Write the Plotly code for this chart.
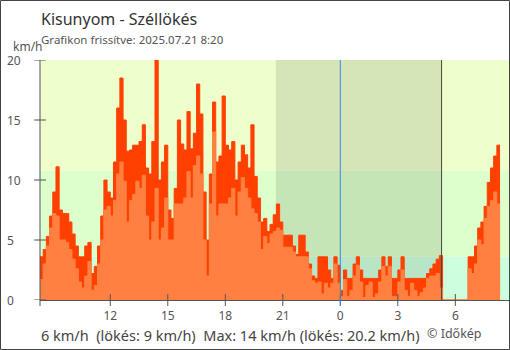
import pandas as pd
import plotly.graph_objects as go

# 10-minute readings, Kisunyom station
start_time = "2025-07-20 08:20"
step = "10min"

gust_kmh = [
    3.6, 4.2, 5.3, 7.0, 9.0, 11.1, 7.5, 7.2, 7.2, 6.5, 5.5, 4.5, 3.6, 3.6, 4.5, 4.8, 2.2, 2.8, 4.5, 7.0, 10.0, 9.0, 8.5, 11.5,
    16.0, 18.5, 15.0, 12.4, 12.5, 12.9, 12.9, 13.2, 14.6, 11.0, 10.5, 13.2, 20.2, 10.0, 11.5, 12.9, 7.5, 6.8, 9.3, 15.0, 13.0, 12.5, 15.7, 12.6, 13.9,
    18.0, 15.5, 9.0, 5.0, 10.5, 16.5, 11.5, 12.0, 17.0, 12.9, 12.5, 13.2, 10.0, 11.5, 12.9, 12.1, 11.0, 14.6, 10.3, 8.5, 6.5, 6.8, 5.7, 6.3, 7.1,
    8.0, 6.5, 5.4, 5.4, 5.4, 4.5, 3.8, 5.4, 5.4, 4.0, 3.0, 2.0, 1.8, 3.6, 3.6, 3.6, 2.5, 1.8, 3.6, 2.9, 0.8, 2.5, 1.8,
    1.8, 3.0, 3.6, 2.5, 1.8, 1.8, 1.8, 1.8, 1.8, 2.5, 3.6, 2.8, 3.6, 1.8, 1.8, 2.5, 3.6, 1.8, 1.8, 1.8, 1.8, 1.8, 1.8, 1.8, 2.2, 2.6, 3.0, 3.4, 3.7,
    0, 0, 0, 0, 0, 0, 0, 0,
    3.6, 3.6, 4.5, 6.0, 6.5, 7.8, 9.8, 11.0, 12.0, 12.9, 12.9,
]
wind_kmh = [
    1.7, 3.0, 4.5, 6.0, 7.2, 7.0, 5.0, 5.0, 4.8, 4.2, 3.4, 2.6, 1.5, 1.0, 2.0, 3.2, 0.8, 1.2, 3.0, 5.0, 7.5, 7.8, 7.0, 8.3,
    10.5, 11.5, 9.9, 6.5, 8.3, 8.8, 9.9, 9.3, 10.4, 7.0, 5.0, 6.5, 9.3, 5.0, 6.0, 8.5, 5.0, 5.0, 8.0, 8.0, 8.0, 8.5, 10.7, 8.5, 11.2,
    12.0, 10.5, 5.0, 2.0, 8.0, 14.0, 7.0, 8.0, 8.0, 8.0, 8.5, 9.3, 7.0, 9.0, 10.2, 9.3, 8.5, 7.6, 7.2, 6.5, 4.2, 5.3, 4.7, 5.5, 5.7,
    6.0, 5.8, 4.4, 4.4, 4.4, 4.0, 3.6, 3.6, 3.6, 3.6, 2.6, 1.6, 1.4, 1.5, 0.5, 1.4, 1.0, 1.4, 3.0, 1.4, 0.3, 1.7, 0.3,
    0.8, 2.0, 2.9, 1.5, 0.2, 1.2, 1.5, 0.2, 0.5, 1.5, 2.8, 2.0, 2.8, 0.3, 0.3, 1.5, 2.5, 0.8, 0.3, 1.4, 0.8, 0.3, 0.6, 1.0, 1.8, 2.0, 2.0, 2.2, 1.0,
    0, 0, 0, 0, 0, 0, 0, 0,
    2.6, 2.2, 3.0, 5.0, 4.6, 6.8, 7.8, 8.3, 9.0, 8.0, 8.0,
]

times = pd.date_range(start_time, periods=len(gust_kmh), freq=step)

# axis
x_range = ["2025-07-20 08:20", "2025-07-21 08:48"]
y_range = [0, 20]
x_tick_times = ["2025-07-20 12:00", "2025-07-20 15:00", "2025-07-20 18:00", "2025-07-20 21:00",
                "2025-07-21 00:00", "2025-07-21 03:00", "2025-07-21 06:00"]
x_tick_labels = ["12", "15", "18", "21", "0", "3", "6"]
y_tick_values = [0, 5, 10, 15, 20]
y_tick_labels = ["0", "5", "10", "15", "20"]

# wind-strength bands (km/h) and their colours
band_edges = [0, 3.6, 10.8, 20]
band_colors = ["#ccffdd", "#ddffcc", "#eeffcc"]

sunset = "2025-07-20 20:38"
sunrise = "2025-07-21 05:17"
midnight = "2025-07-21 00:00"

NBSP = "\u00a0"
title = "Kisunyom - Széllökés"
subtitle = "Grafikon frissítve: 2025.07.21 8:20"
summary = f"6 km/h{NBSP}{NBSP}(lökés: 9 km/h){NBSP}{NBSP}Max: 14 km/h (lökés: 20.2 km/h)"
credit = "© Időkép"

W, H = 510, 350
ML, MR, MT, MB = 40, 1, 60, 50
PW, PH = W - ML - MR, H - MT - MB


def px(x):
    return (x - ML) / PW


def py(y):
    return (MT + PH - y) / PH


FONT = "Noto Sans"
GUST_COLOR = "#ff4000"
WIND_COLOR = "#ff8040"
AXIS_COLOR = "#555555"

fig = go.Figure()
fig.add_trace(go.Scatter(
    x=times, y=gust_kmh, mode="lines", line=dict(shape="hv", width=1, color=GUST_COLOR),
    fill="tozeroy", fillcolor=GUST_COLOR, hoverinfo="skip", showlegend=False,
))
fig.add_trace(go.Scatter(
    x=times, y=wind_kmh, mode="lines", line=dict(shape="hv", width=1, color=WIND_COLOR),
    fill="tozeroy", fillcolor=WIND_COLOR, hoverinfo="skip", showlegend=False,
))

shapes = []
for lo, hi, col in zip(band_edges[:-1], band_edges[1:], band_colors):
    shapes.append(dict(type="rect", xref="paper", yref="y", x0=0, x1=1, y0=lo, y1=hi,
                       fillcolor=col, line=dict(width=0), layer="below"))
# night
shapes.append(dict(type="rect", xref="x", yref="paper", x0=sunset, x1=sunrise, y0=0, y1=1,
                   fillcolor="rgba(0,0,0,0.1)", line=dict(width=0), layer="below"))
# y axis line and crossing ticks
shapes.append(dict(type="line", xref="paper", yref="paper", x0=0, x1=0, y0=py(306), y1=1,
                   line=dict(color=AXIS_COLOR, width=1)))
for v in y_tick_values:
    shapes.append(dict(type="line", xref="paper", yref="y", x0=px(34), x1=px(46), y0=v, y1=v,
                       line=dict(color=AXIS_COLOR, width=1)))
for t in x_tick_times:
    shapes.append(dict(type="line", xref="x", yref="paper", x0=t, x1=t, y0=py(294), y1=py(306),
                       line=dict(color=AXIS_COLOR, width=1)))
# midnight and sunrise markers
shapes.append(dict(type="line", xref="x", yref="paper", x0=midnight, x1=midnight, y0=py(306), y1=1,
                   line=dict(color="#2b8fe0", width=1), layer="above"))
shapes.append(dict(type="line", xref="x", yref="paper", x0=sunrise, x1=sunrise, y0=0, y1=1,
                   line=dict(color="#444444", width=1), layer="above"))
# outer frame
shapes.append(dict(type="rect", xref="paper", yref="paper", x0=px(0.5), x1=px(W - 0.5),
                   y0=py(H - 0.5), y1=py(0.5), line=dict(color="#444444", width=1),
                   fillcolor="rgba(0,0,0,0)"))

annotations = [
    dict(text=title, x=px(39), y=py(19), xanchor="left", yanchor="middle",
         font=dict(family=FONT, size=16, color="#333333")),
    dict(text=subtitle, x=px(39), y=py(39), xanchor="left", yanchor="middle",
         font=dict(family=FONT, size=11.5, color="#555555")),
    dict(text="km/h", x=px(11), y=py(46.5), xanchor="left", yanchor="middle",
         font=dict(family=FONT, size=12, color="#555555")),
    dict(text=summary, x=px(39), y=py(335), xanchor="left", yanchor="middle",
         font=dict(family=FONT, size=14.5, color="#444444")),
    dict(text=credit, x=px(425), y=py(333), xanchor="left", yanchor="middle",
         font=dict(family=FONT, size=12.5, color="#555555")),
]
for v, lab in zip(y_tick_values, y_tick_labels):
    annotations.append(dict(text=lab, x=px(5), y=v, yref="y", xref="paper",
                            xanchor="left", yanchor="middle", showarrow=False,
                            font=dict(family=FONT, size=12, color="#555555")))
for a in annotations:
    a.setdefault("xref", "paper")
    a.setdefault("yref", "paper")
    a.setdefault("showarrow", False)

fig.update_layout(
    width=W, height=H, margin=dict(l=ML, r=MR, t=MT, b=MB),
    paper_bgcolor="white", plot_bgcolor="white",
    shapes=shapes, annotations=annotations,
    font=dict(family=FONT),
    xaxis=dict(type="date", range=x_range, tickvals=x_tick_times, ticktext=x_tick_labels,
               showgrid=False, zeroline=False, showline=True, linecolor=AXIS_COLOR, linewidth=1,
               ticks="outside", ticklen=5, tickcolor="rgba(0,0,0,0)",
               tickfont=dict(family=FONT, size=12, color="#555555")),
    yaxis=dict(range=y_range, showgrid=False, zeroline=False, showline=False,
               showticklabels=False, ticks=""),
)

fig.write_html("out.html", config={"displayModeBar": False})
